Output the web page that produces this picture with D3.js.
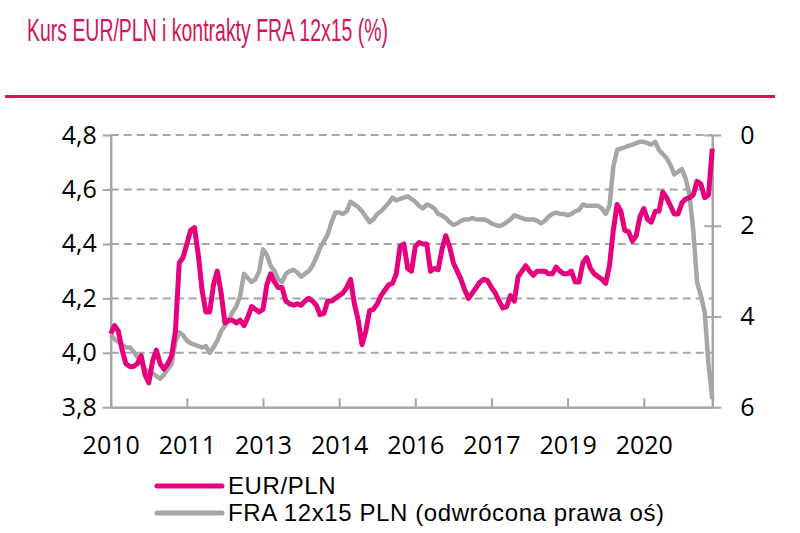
<!DOCTYPE html>
<html>
<head>
<meta charset="utf-8">
<script src="https://cdn.jsdelivr.net/npm/d3@7"></script>
<style>
  body { margin: 0; background: #fff; }
  svg text { font-family: "Open Sans", sans-serif; fill: #000; }
</style>
</head>
<body>
<div id="chart"></div>
<script>
const svgWidth = 800;
const svgHeight = 533;
const margins = {top: 135, right: 88, bottom: 126, left: 111};

// tick labels on the x axis (category axis, one label every 20 points)
const xTickIdx = [0, 20, 40, 60, 80, 100, 120, 140];
const xTickLabels = ["2010", "2011", "2013", "2014", "2016", "2017", "2019", "2020"];
const leftTicks = [3.8, 4.0, 4.2, 4.4, 4.6, 4.8];
const rightTicks = [0, 2, 4, 6];

// EUR/PLN (left axis)
const eurpln = [
  4.07, 4.10, 4.08, 4.01, 3.96, 3.95, 3.95, 3.96, 3.99, 3.92,
  3.89, 3.97, 4.01, 3.96, 3.94, 3.96, 3.99, 4.08, 4.33, 4.35,
  4.40, 4.45, 4.46, 4.36, 4.23, 4.15, 4.15, 4.25, 4.30, 4.22,
  4.11, 4.12, 4.12, 4.11, 4.12, 4.10, 4.13, 4.17, 4.16, 4.15,
  4.16, 4.25, 4.29, 4.26, 4.24, 4.24, 4.19, 4.18, 4.175, 4.18,
  4.175, 4.19, 4.20, 4.19, 4.175, 4.14, 4.145, 4.19, 4.19, 4.20,
  4.21, 4.22, 4.24, 4.27, 4.18, 4.12, 4.03, 4.08, 4.155, 4.16,
  4.18, 4.21, 4.23, 4.25, 4.255, 4.29, 4.39, 4.40, 4.31, 4.30,
  4.39, 4.405, 4.40, 4.40, 4.30, 4.31, 4.305, 4.38, 4.43, 4.39,
  4.33, 4.30, 4.27, 4.23, 4.20, 4.22, 4.24, 4.26, 4.27, 4.265,
  4.24, 4.22, 4.19, 4.165, 4.17, 4.21, 4.19, 4.28, 4.30, 4.32,
  4.30, 4.285, 4.30, 4.30, 4.30, 4.29, 4.29, 4.315, 4.30, 4.29,
  4.29, 4.30, 4.26, 4.26, 4.33, 4.35, 4.31, 4.29, 4.28, 4.27,
  4.255, 4.32, 4.45, 4.545, 4.52, 4.45, 4.445, 4.41, 4.43, 4.50,
  4.53, 4.49, 4.48, 4.52, 4.52, 4.59, 4.57, 4.54, 4.51, 4.51,
  4.55, 4.565, 4.57, 4.58, 4.63, 4.62, 4.57, 4.58, 4.75
];

// FRA 12x15 PLN, % (right axis, reversed)
const fra = [
  4.41, 4.50, 4.56, 4.62, 4.68, 4.68, 4.77, 4.89, 4.98, 5.16,
  5.22, 5.25, 5.31, 5.37, 5.28, 5.16, 5.04, 4.56, 4.35, 4.41,
  4.53, 4.59, 4.62, 4.65, 4.68, 4.65, 4.80, 4.68, 4.53, 4.32,
  4.20, 4.08, 3.90, 3.78, 3.54, 3.06, 3.15, 3.24, 3.18, 3.00,
  2.52, 2.64, 2.88, 3.00, 3.18, 3.24, 3.06, 3.00, 2.97, 3.03,
  3.12, 3.06, 3.00, 2.88, 2.70, 2.49, 2.34, 2.19, 1.92, 1.71,
  1.71, 1.74, 1.68, 1.47, 1.53, 1.59, 1.68, 1.80, 1.92, 1.86,
  1.74, 1.68, 1.59, 1.50, 1.38, 1.44, 1.41, 1.38, 1.35, 1.41,
  1.47, 1.56, 1.62, 1.53, 1.56, 1.62, 1.74, 1.77, 1.83, 1.92,
  1.98, 1.95, 1.89, 1.86, 1.86, 1.83, 1.86, 1.86, 1.86, 1.89,
  1.95, 1.98, 2.01, 1.98, 1.92, 1.86, 1.77, 1.80, 1.83, 1.86,
  1.86, 1.86, 1.89, 1.95, 1.89, 1.80, 1.74, 1.71, 1.74, 1.74,
  1.77, 1.74, 1.68, 1.65, 1.53, 1.56, 1.56, 1.56, 1.56, 1.62,
  1.74, 1.56, 0.70, 0.33, 0.30, 0.27, 0.24, 0.21, 0.18, 0.15,
  0.15, 0.18, 0.21, 0.15, 0.33, 0.42, 0.51, 0.66, 0.87, 0.81,
  0.75, 0.96, 1.32, 2.10, 3.24, 3.54, 3.90, 5.04, 5.82
];

const seriesNames = ["EUR/PLN", "FRA 12x15 PLN (odwrócona prawa oś)"];
const pink = "#e6007e";
const grey = "#a6a6a6";
const titleColor = "#d3145a";

const svg = d3.select("#chart")
  .append("svg")
  .attr("width", svgWidth)
  .attr("height", svgHeight);

const x0 = margins.left - 0.3;
const x1 = svgWidth - margins.right + 0.3;
const yTop = margins.top;
const yBottom = svgHeight - margins.bottom + 0.3;

const xScale = d3.scaleLinear()
  .domain([0, eurpln.length - 1])
  .range([x0, x1]);

const yLeft = d3.scaleLinear()
  .domain([3.8, 4.8])
  .range([yBottom, yTop]);

const yRight = d3.scaleLinear()
  .domain([0, 6])
  .range([yTop, yBottom]);

// title + rule
svg.append("text")
  .attr("x", 27)
  .attr("y", 41)
  .attr("textLength", 361)
  .attr("lengthAdjust", "spacingAndGlyphs")
  .style("font-family", "'Liberation Sans', sans-serif")
  .style("font-size", "32px")
  .style("fill", titleColor)
  .text("Kurs EUR/PLN i kontrakty FRA 12x15 (%)");

svg.append("line")
  .attr("x1", 5).attr("x2", 775)
  .attr("y1", 96.5).attr("y2", 96.5)
  .attr("stroke", titleColor)
  .attr("stroke-width", 3);

// gridlines
svg.append("g")
  .selectAll("line")
  .data(leftTicks.slice(1))
  .join("line")
    .attr("x1", x0).attr("x2", x1)
    .attr("y1", d => yLeft(d)).attr("y2", d => yLeft(d))
    .attr("stroke", grey)
    .attr("stroke-width", 2)
    .attr("stroke-dasharray", "8,5");

function styleAxis(g) {
  g.select(".domain").attr("stroke", grey).attr("stroke-width", 2.5);
  g.selectAll(".tick line").attr("stroke", grey).attr("stroke-width", 2);
  g.selectAll(".tick text").attr("font-size", "25px").attr("fill", "#000");
}

// left axis
svg.append("g")
  .attr("transform", "translate(" + x0 + ",0)")
  .call(d3.axisLeft(yLeft)
    .tickValues(leftTicks)
    .tickSize(8)
    .tickSizeOuter(0)
    .tickPadding(6)
    .tickFormat(d => d3.format(".1f")(d).replace(".", ",")))
  .call(styleAxis);

// right axis (reversed)
const rightAxis = svg.append("g")
  .attr("transform", "translate(" + x1 + ",0)")
  .call(d3.axisRight(yRight)
    .tickValues(rightTicks)
    .tickSize(9)
    .tickSizeOuter(0)
    .tickPadding(19)
    .tickFormat(d3.format("d")))
  .call(styleAxis);
rightAxis.selectAll(".tick line").attr("x1", -8);

// bottom axis
svg.append("g")
  .attr("transform", "translate(0," + yBottom + ")")
  .call(d3.axisBottom(xScale)
    .tickValues(xTickIdx)
    .tickSize(-9)
    .tickSizeOuter(0)
    .tickPadding(29)
    .tickFormat((d, i) => xTickLabels[i]))
  .call(styleAxis);

// lines
const lineL = d3.line()
  .x((d, i) => xScale(i))
  .y(d => yLeft(d));

const lineR = d3.line()
  .x((d, i) => xScale(i))
  .y(d => yRight(d));

svg.append("path")
  .datum(fra)
  .attr("d", lineR)
  .attr("fill", "none")
  .attr("stroke", grey)
  .attr("stroke-width", 4.5)
  .attr("stroke-linejoin", "round");

svg.append("path")
  .datum(eurpln)
  .attr("d", lineL)
  .attr("fill", "none")
  .attr("stroke", pink)
  .attr("stroke-width", 5)
  .attr("stroke-linejoin", "round");

// legend
const legend = svg.append("g")
  .selectAll("g")
  .data(seriesNames)
  .join("g")
    .attr("transform", (d, i) => "translate(157," + (486 + i * 27) + ")");

legend.append("line")
  .attr("x1", 0).attr("x2", 65)
  .attr("y1", 0).attr("y2", 0)
  .attr("stroke", (d, i) => i === 0 ? pink : grey)
  .attr("stroke-width", 5)
  .attr("stroke-linecap", "round");

legend.append("text")
  .attr("x", 71)
  .attr("y", 0)
  .attr("dy", "0.35em")
  .style("font-family", "'Liberation Sans', sans-serif")
  .style("letter-spacing", "0.6px")
  .attr("font-size", "24px")
  .text(d => d);
</script>
</body>
</html>
